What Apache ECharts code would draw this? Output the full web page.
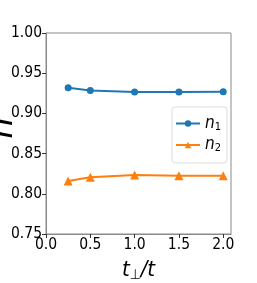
<!DOCTYPE html>
<html><head><meta charset="utf-8">
<script src="https://cdn.jsdelivr.net/npm/echarts@6/dist/echarts.min.js"></script>
<style>html,body{margin:0;padding:0;background:#fff}#c{width:257px;height:283px}</style>
</head><body><div id="c"></div>
<script>
const tValues = [0.25, 0.5, 1.0, 1.5, 2.0];
const n1Values = [0.932, 0.9285, 0.9265, 0.9265, 0.927];
const n2Values = [0.816, 0.8205, 0.8235, 0.8225, 0.8225];
const xTicks = [0, 0.5, 1.0, 1.5, 2.0];
const yTicks = [0.75, 0.80, 0.85, 0.90, 0.95, 1.00];
const seriesNames = ['n1', 'n2'];

const FONT = '"Liberation Sans Narrow", "DejaVu Sans Condensed", sans-serif';
const chart = echarts.init(document.getElementById('c'), null, {renderer: 'canvas'});
const pair = (xs, ys) => xs.map((x, i) => [x, ys[i]]);
chart.setOption({
  animation: false,
  textStyle: {fontFamily: FONT},
  grid: {left: 46, right: 26, top: 33, bottom: 49, containLabel: false, outerBoundsMode: 'none',
         show: true, borderColor: '#8a8a8a', borderWidth: 1},
  xAxis: {
    type: 'value', min: 0, max: 2.0875,
    axisLine: {show: true, lineStyle: {color: '#8a8a8a'}},
    axisTick: {show: true, length: 4, lineStyle: {color: '#333'}, customValues: xTicks},
    axisLabel: {customValues: xTicks, formatter: v => v.toFixed(1), color: '#000', fontSize: 15.5, fontFamily: FONT, margin: 3},
    splitLine: {show: false},
    name: '{t|t}{s|⊥}{t|/t}', nameLocation: 'middle', nameGap: 24,
    nameTextStyle: {rich: {
      t: {fontSize: 22, fontStyle: 'italic', fontFamily: FONT, color: '#000'},
      s: {fontSize: 14, fontFamily: FONT, color: '#000', padding: [10, 0, 0, 0]}
    }}
  },
  yAxis: {
    type: 'value', min: 0.75, max: 1.0, interval: 0.05,
    axisLine: {show: true, lineStyle: {color: '#8a8a8a'}},
    axisTick: {show: true, length: 4, lineStyle: {color: '#333'}},
    axisLabel: {customValues: yTicks, formatter: v => v.toFixed(2), color: '#000', fontSize: 15.5, fontFamily: FONT, margin: 4},
    splitLine: {show: false}
  },
  graphic: [{
    type: 'text', x: 20, y: 128, rotation: Math.PI / 2,
    style: {text: 'n', fontSize: 34, fontStyle: 'italic', fontFamily: 'DejaVu Sans', fill: '#000',
            align: 'center', verticalAlign: 'bottom'}
  }],
  legend: {
    orient: 'vertical', left: 172, top: 107,
    backgroundColor: '#fff', borderColor: '#ddd', borderWidth: 1, borderRadius: 3,
    padding: [8, 6, 9, 3], itemGap: 4, itemWidth: 24, itemHeight: 8,
    formatter: name => '{i|n}{s|' + name.slice(1) + '}',
    textStyle: {rich: {
      i: {fontSize: 17, lineHeight: 18, fontStyle: 'italic', fontFamily: FONT, color: '#000'},
      s: {fontSize: 11, lineHeight: 8, verticalAlign: 'bottom', fontFamily: FONT, color: '#000'}
    }},
    data: seriesNames
  },
  series: [
    {name: seriesNames[0], type: 'line', data: pair(tValues, n1Values), color: '#1f77b4',
     symbol: 'circle', symbolSize: 7, lineStyle: {width: 2}},
    {name: seriesNames[1], type: 'line', data: pair(tValues, n2Values), color: '#ff7f0e',
     symbol: 'triangle', symbolSize: 9, lineStyle: {width: 2}}
  ]
});
</script></body></html>
